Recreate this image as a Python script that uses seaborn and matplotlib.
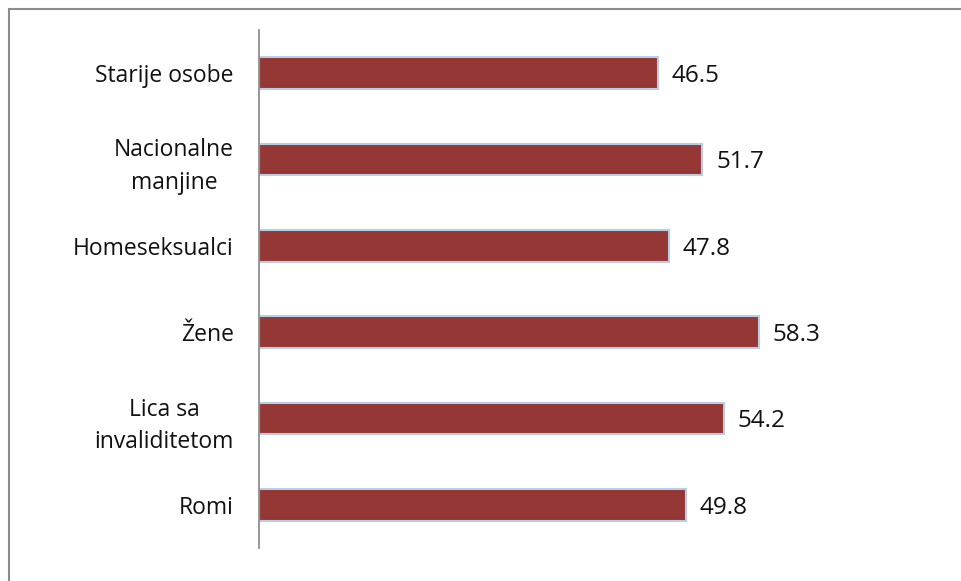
import matplotlib
matplotlib.use('Agg')
import matplotlib.pyplot as plt
from matplotlib.lines import Line2D
import seaborn as sns
import pandas as pd

# data
categories = ['Starije osobe', 'Nacionalne\nmanjine', 'Homeseksualci', 'Žene',
              'Lica sa\ninvaliditetom', 'Romi']
values = [46.5, 51.7, 47.8, 58.3, 54.2, 49.8]

sns.set_style('white')
plt.rcParams['font.family'] = ['Open Sans', 'DejaVu Sans']

df = pd.DataFrame({'group': categories, 'value': values})

fig = plt.figure(figsize=(9.62, 5.81), dpi=100)
ax = fig.add_axes([259 / 962, 1 - 548 / 581, 686 / 962, 518 / 581])

sns.barplot(data=df, x='value', y='group', orient='h', color='#953735',
            saturation=1, width=0.37, edgecolor='#b9cde5', linewidth=1.5, ax=ax)

texts = ax.bar_label(ax.containers[0], fmt='%.1f', padding=9, fontsize=17.5, color='#111111')
for t in texts:
    t.xyann = (10, -2)  # nudge a little lower, like the original

ax.set_xlim(0, 80)
ax.set_ylim(5.5, -0.5)
ax.set_xlabel('')
ax.set_ylabel('')
ax.set_xticks([])
ax.tick_params(axis='y', length=0, pad=18, labelsize=16.5, labelcolor='#111111')
for lbl in ax.get_yticklabels():
    lbl.set_multialignment('center')
    lbl.set_linespacing(1.45)

for s in ['top', 'right', 'bottom']:
    ax.spines[s].set_visible(False)
ax.spines['left'].set_color('#868686')
ax.spines['left'].set_linewidth(1.2)

# outer chart border (only top and left visible in the picture)
fig.add_artist(Line2D([9 / 962, 1], [1 - 9 / 581, 1 - 9 / 581], color='#8c8c8c', lw=1.5,
                      transform=fig.transFigure))
fig.add_artist(Line2D([9 / 962, 9 / 962], [0, 1 - 9 / 581], color='#8c8c8c', lw=1.5,
                      transform=fig.transFigure))

fig.savefig('out.png', dpi=100)
